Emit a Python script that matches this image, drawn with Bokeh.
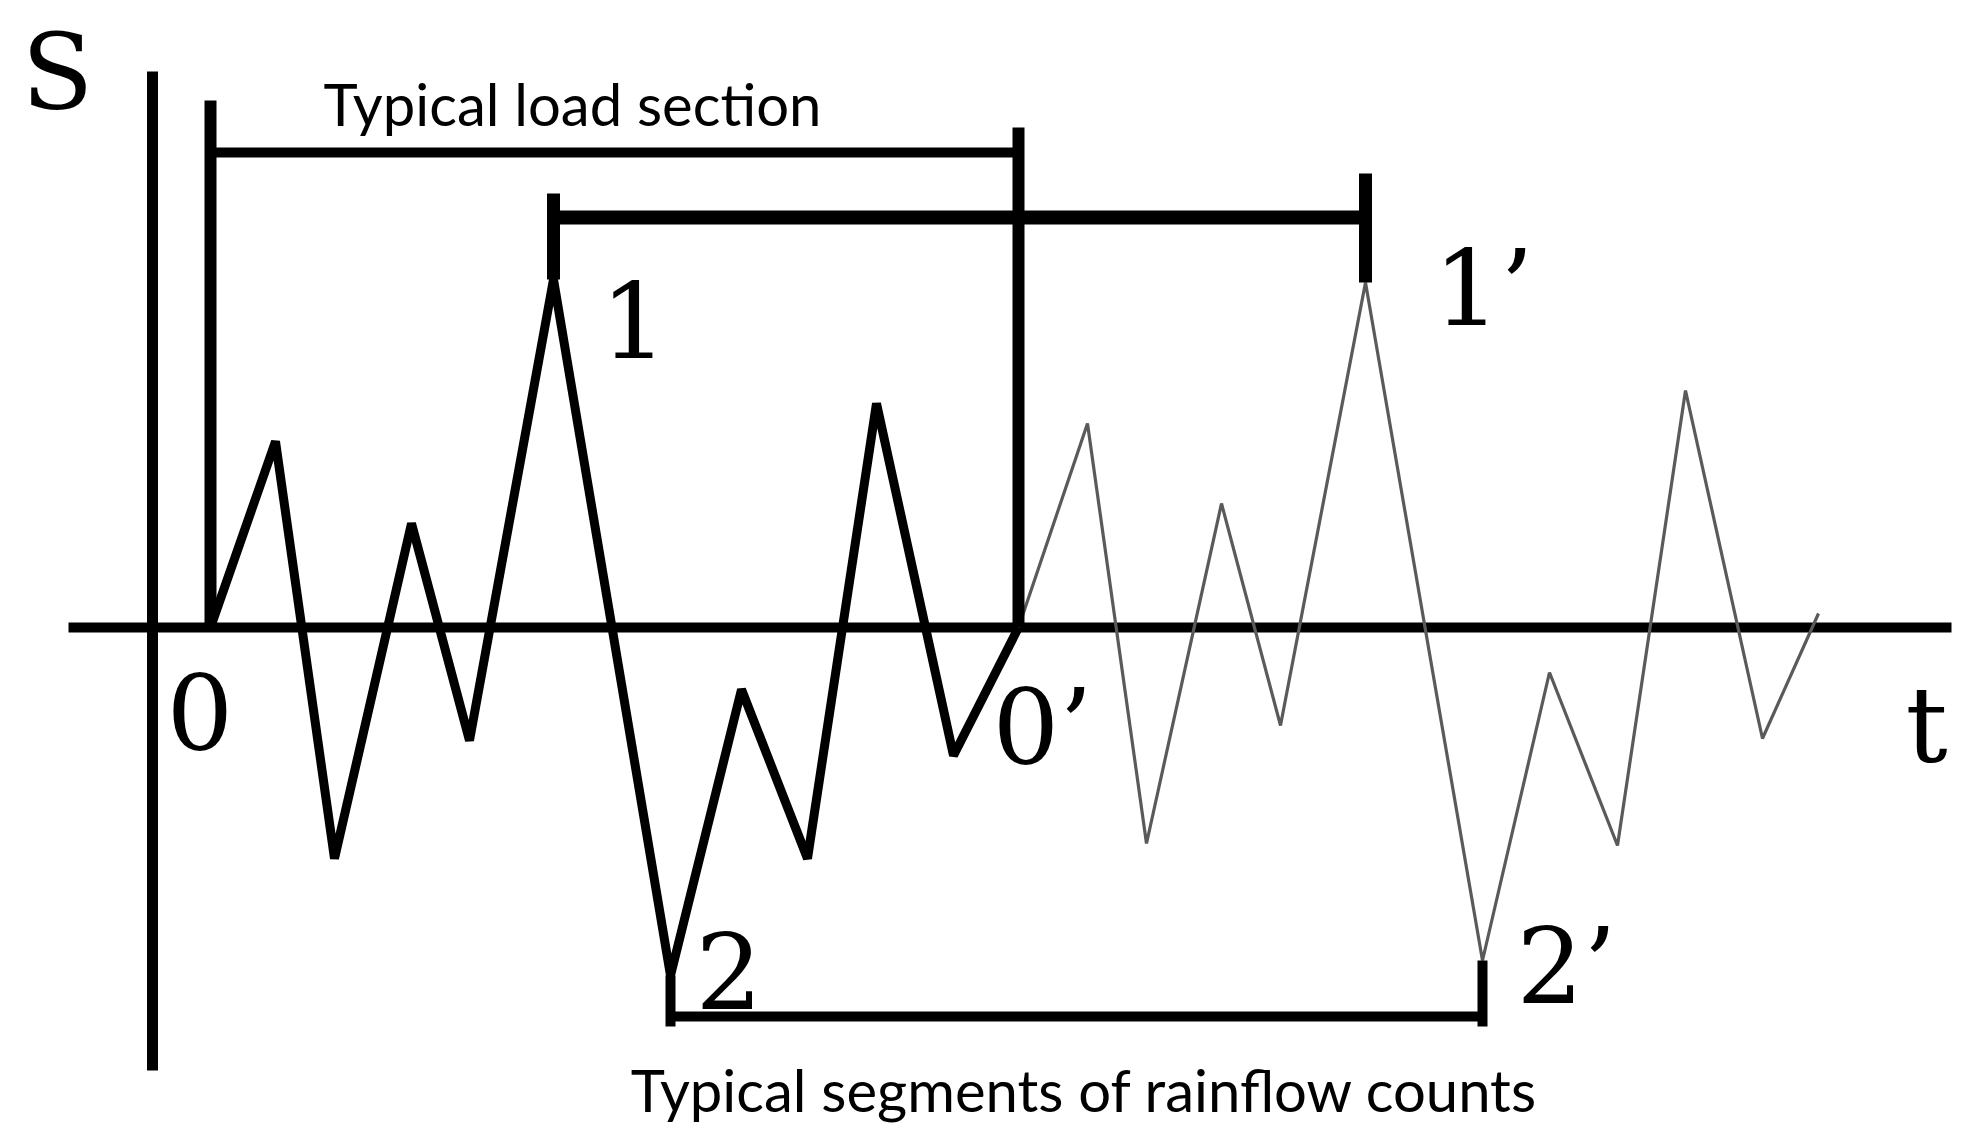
from bokeh.plotting import figure
from bokeh.models import Range1d
from bokeh.core.properties import value
from bokeh.embed import file_html
from bokeh.resources import INLINE

# ---- data (t in time units, S in load units; axis S = 0) ----
t_section = [0, 6.5, 12.4, 20.1, 25.9, 34.3, 46.0, 53.1, 59.7, 66.6, 74.3, 80.8]
s_section = [0, 18.6, -23.1, 10.4, -11.3, 34.8, -34.8, -6.2, -23.1, 22.4, -12.8, 0]

t_repeat = [80.8, 87.7, 93.6, 101.1, 107.0, 115.5, 127.2, 133.9, 140.7, 147.5, 155.2, 160.8]
s_repeat = [0, 20.4, -21.6, 12.4, -9.8, 34.5, -33.3, -4.5, -21.8, 23.7, -11.1, 1.4]

label_load = "Typical load section"
label_rainflow = "Typical segments of rainflow counts"
axis_names = ["S", "t"]
point_names = ["0", "1", "2", "0\u2019", "1\u2019", "2\u2019"]

# ---- layout constants ----
X0, X1 = -21.0, 176.0
Y0, Y1 = -50.0, 62.7
W, H = 1970, 1127

p = figure(width=W, height=H, x_range=Range1d(X0, X1), y_range=Range1d(Y0, Y1),
           output_backend="svg", toolbar_location=None, min_border=0,
           x_axis_location=None, y_axis_location=None,
           background_fill_color="white", border_fill_color="white")
p.outline_line_color = None
p.xgrid.visible = False
p.ygrid.visible = False

ink = "#000000"

# axes
t_axis = -5.8
p.segment(x0=[t_axis], y0=[55.6], x1=[t_axis], y1=[-44.3], line_color=ink, line_width=11)
p.segment(x0=[-14.2], y0=[0], x1=[174.1], y1=[0], line_color=ink, line_width=10)

# signal
p.line(t_repeat, s_repeat, line_color="#5a5a5a", line_width=3.2)
p.line(t_section, s_section, line_color=ink, line_width=9)

# indices of key points
i_peak = s_section.index(max(s_section))
i_trough = s_section.index(min(s_section))
j_peak = s_repeat.index(max(s_repeat))
j_trough = s_repeat.index(min(s_repeat))

# typical load section bracket
y_load = 47.5
t_start, t_end = t_section[0], t_section[-1]
p.segment(x0=[t_start], y0=[52.7], x1=[t_start], y1=[0], line_color=ink, line_width=12)
p.segment(x0=[t_end], y0=[50.0], x1=[t_end], y1=[0], line_color=ink, line_width=12)
p.segment(x0=[t_start], y0=[y_load], x1=[t_end], y1=[y_load], line_color=ink, line_width=10)

# 1 - 1' bracket
y_top = 41.0
tp1, tp2 = t_section[i_peak], t_repeat[j_peak]
p.segment(x0=[tp1], y0=[43.4], x1=[tp1], y1=[s_section[i_peak]], line_color=ink, line_width=13)
p.segment(x0=[tp2], y0=[45.4], x1=[tp2], y1=[s_repeat[j_peak]], line_color=ink, line_width=13)
p.segment(x0=[tp1], y0=[y_top], x1=[tp2], y1=[y_top], line_color=ink, line_width=14)

# 2 - 2' bracket
y_bot = -38.9
tt1, tt2 = t_section[i_trough], t_repeat[j_trough]
p.segment(x0=[tt1], y0=[s_section[i_trough]], x1=[tt1], y1=[-39.9], line_color=ink, line_width=10)
p.segment(x0=[tt2], y0=[s_repeat[j_trough]], x1=[tt2], y1=[-39.9], line_color=ink, line_width=10)
p.segment(x0=[tt1], y0=[y_bot], x1=[tt2], y1=[y_bot], line_color=ink, line_width=10)

# captions (baseline lift compensates renderer's text placement)
cap_lift = 2.1
p.text(x=[36.2], y=[50.3 + cap_lift], text=[label_load], text_font=value("Lato"),
       text_font_size="58px", text_color=ink, text_align="center", text_baseline="alphabetic")
p.text(x=[87.4], y=[-48.3 + cap_lift], text=[label_rainflow], text_font=value("Lato"),
       text_font_size="58px", text_color=ink, text_align="center", text_baseline="alphabetic")

# serif labels
serif_lift = 3.9
lab_x = [-4.4, 39.0, 48.5, 78.2, 122.3, 130.6]
lab_y = [-12.3, 26.9, -38.2, -13.9, 30.0, -37.8]
p.text(x=lab_x, y=[v + serif_lift for v in lab_y], text=point_names,
       text_font=value("DejaVu Serif"), text_font_size="105px", text_color=ink,
       text_align="left", text_baseline="alphabetic")
p.text(x=[-18.9, 169.5], y=[51.6 + serif_lift, -13.7 + serif_lift], text=axis_names,
       text_font=value("DejaVu Serif"), text_font_size="105px", text_color=ink,
       text_align="left", text_baseline="alphabetic")

open("out.html", "w").write(file_html(p, INLINE))
